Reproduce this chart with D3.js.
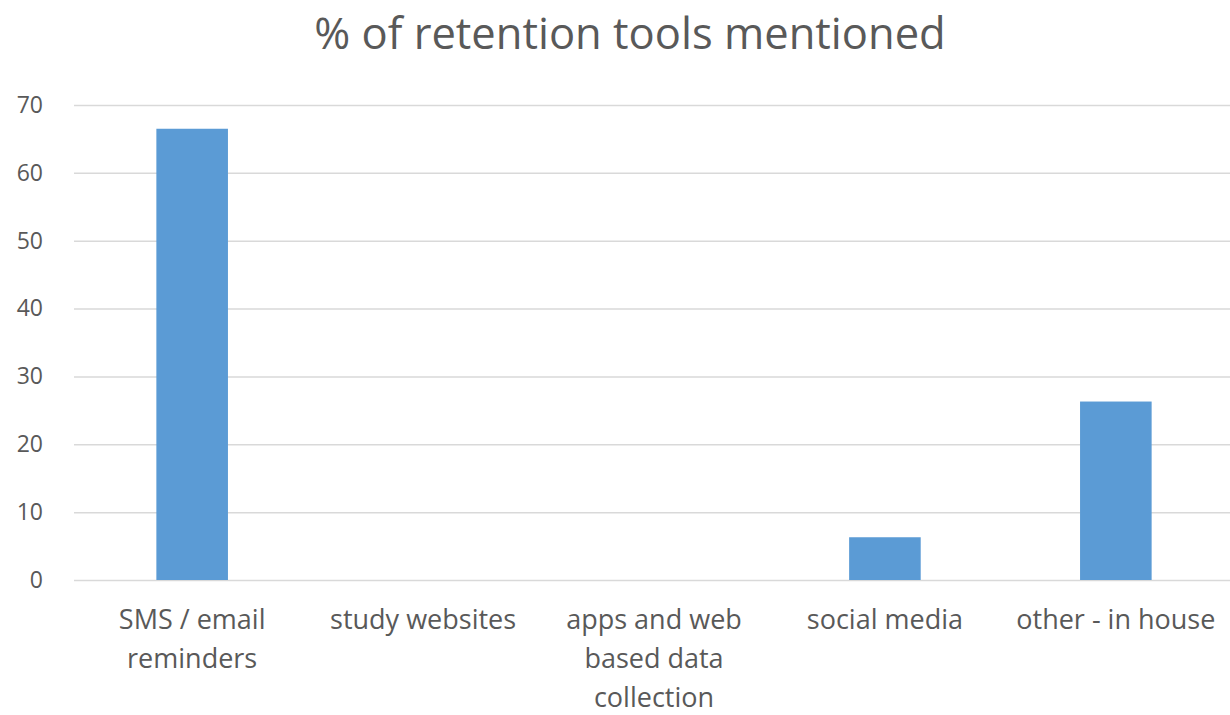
<!DOCTYPE html>
<html>
<head>
<meta charset="utf-8">
<script src="https://cdn.jsdelivr.net/npm/d3@7/dist/d3.min.js"></script>
<style>
  html, body { margin: 0; padding: 0; background: #ffffff; }
  svg { display: block; font-family: "Open Sans", "Noto Sans", sans-serif; }
</style>
</head>
<body>
<svg id="chart" width="1230" height="715"></svg>
<script>
// Share of studies mentioning each retention tool (%)
const categories = [
  "SMS / email reminders",
  "study websites",
  "apps and web based data collection",
  "social media",
  "other - in house"
];
const categoryLines = [
  ["SMS / email", "reminders"],
  ["study websites"],
  ["apps and web", "based data", "collection"],
  ["social media"],
  ["other - in house"]
];
const values = [66.5, 0, 0, 6.3, 26.3];
const yTicks = [0, 10, 20, 30, 40, 50, 60, 70];
const title = "% of retention tools mentioned";

const svg = d3.select("#chart");
const plot = { left: 76.7, right: 1231.3, top: 105, bottom: 580 };

const x = d3.scaleBand()
  .domain(categories)
  .range([plot.left, plot.right])
  .paddingInner(0)
  .paddingOuter(0);

const y = d3.scaleLinear()
  .domain([0, 70])
  .range([plot.bottom, plot.top]);

const barW = x.bandwidth() * 0.31;

// Title
svg.append("text")
  .attr("x", 630)
  .attr("y", 49)
  .attr("text-anchor", "middle")
  .attr("fill", "#595959")
  .attr("font-size", 43.5)
  .text(title);

// Horizontal gridlines and y tick labels
const yAxis = d3.axisLeft(y)
  .tickValues(yTicks)
  .tickSize(-(1230 - 74))
  .tickPadding(31);

const gy = svg.append("g")
  .attr("transform", `translate(74,0)`)
  .call(yAxis);
gy.select(".domain").remove();
gy.selectAll(".tick line")
  .attr("stroke", "#d9d9d9")
  .attr("stroke-width", 1.5);
gy.selectAll(".tick text")
  .attr("fill", "#595959")
  .attr("font-size", 23)
  .attr("font-family", "'Open Sans', 'Noto Sans', sans-serif");

// Bars
svg.append("g")
  .selectAll("rect")
  .data(values.map((v, i) => ({ cat: categories[i], v })))
  .join("rect")
  .attr("x", d => x(d.cat) + (x.bandwidth() - barW) / 2)
  .attr("width", barW)
  .attr("y", d => y(d.v))
  .attr("height", d => y(0) - y(d.v))
  .attr("fill", "#5b9bd5");

// Category labels, wrapped onto several lines
const labels = svg.append("g")
  .selectAll("text")
  .data(categories)
  .join("text")
  .attr("x", d => x(d) + x.bandwidth() / 2)
  .attr("y", 629)
  .attr("text-anchor", "middle")
  .attr("fill", "#595959")
  .attr("font-size", 27);

labels.selectAll("tspan")
  .data((d, i) => categoryLines[i])
  .join("tspan")
  .attr("x", function () { return d3.select(this.parentNode).attr("x"); })
  .attr("dy", (d, i) => i === 0 ? 0 : 39)
  .text(d => d);
</script>
</body>
</html>
